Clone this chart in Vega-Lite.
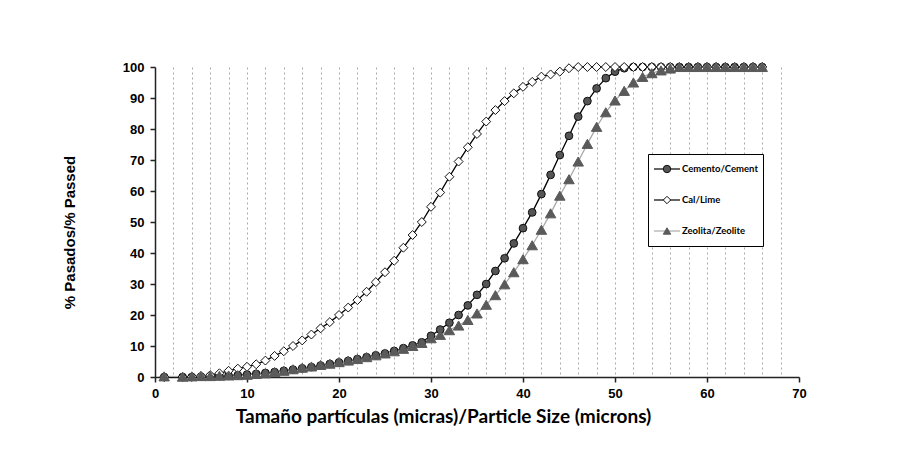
{
  "$schema": "https://vega.github.io/schema/vega-lite/v6.json",
  "width": 644,
  "height": 310,
  "autosize": "none",
  "padding": {"left": 155, "top": 67, "right": 101, "bottom": 72},
  "background": "white",
  "config": {"view": {"stroke": null}},
  "data": {"values": [
    {"s":"Cemento/Cement","x":1,"y":0},{"s":"Cemento/Cement","x":3,"y":0},{"s":"Cemento/Cement","x":4,"y":0},{"s":"Cemento/Cement","x":5,"y":0.1},{"s":"Cemento/Cement","x":6,"y":0.2},{"s":"Cemento/Cement","x":7,"y":0.3},{"s":"Cemento/Cement","x":8,"y":0.4},{"s":"Cemento/Cement","x":9,"y":0.6},{"s":"Cemento/Cement","x":10,"y":0.8},{"s":"Cemento/Cement","x":11,"y":1.0},{"s":"Cemento/Cement","x":12,"y":1.3},{"s":"Cemento/Cement","x":13,"y":1.6},{"s":"Cemento/Cement","x":14,"y":2.0},{"s":"Cemento/Cement","x":15,"y":2.4},{"s":"Cemento/Cement","x":16,"y":2.8},{"s":"Cemento/Cement","x":17,"y":3.2},{"s":"Cemento/Cement","x":18,"y":3.7},{"s":"Cemento/Cement","x":19,"y":4.2},{"s":"Cemento/Cement","x":20,"y":4.7},{"s":"Cemento/Cement","x":21,"y":5.2},{"s":"Cemento/Cement","x":22,"y":5.8},{"s":"Cemento/Cement","x":23,"y":6.4},{"s":"Cemento/Cement","x":24,"y":7.0},{"s":"Cemento/Cement","x":25,"y":7.6},{"s":"Cemento/Cement","x":26,"y":8.4},{"s":"Cemento/Cement","x":27,"y":9.3},{"s":"Cemento/Cement","x":28,"y":10.2},{"s":"Cemento/Cement","x":29,"y":11.2},{"s":"Cemento/Cement","x":30,"y":13.3},{"s":"Cemento/Cement","x":31,"y":15.3},{"s":"Cemento/Cement","x":32,"y":17.5},{"s":"Cemento/Cement","x":33,"y":20.0},{"s":"Cemento/Cement","x":34,"y":23.1},{"s":"Cemento/Cement","x":35,"y":26.5},{"s":"Cemento/Cement","x":36,"y":30.0},{"s":"Cemento/Cement","x":37,"y":34.2},{"s":"Cemento/Cement","x":38,"y":38.3},{"s":"Cemento/Cement","x":39,"y":43.1},{"s":"Cemento/Cement","x":40,"y":48.0},{"s":"Cemento/Cement","x":41,"y":53.1},{"s":"Cemento/Cement","x":42,"y":59.0},{"s":"Cemento/Cement","x":43,"y":65.2},{"s":"Cemento/Cement","x":44,"y":71.6},{"s":"Cemento/Cement","x":45,"y":77.8},{"s":"Cemento/Cement","x":46,"y":84.0},{"s":"Cemento/Cement","x":47,"y":89.0},{"s":"Cemento/Cement","x":48,"y":93.1},{"s":"Cemento/Cement","x":49,"y":96.4},{"s":"Cemento/Cement","x":50,"y":98.5},{"s":"Cemento/Cement","x":51,"y":99.6},{"s":"Cemento/Cement","x":52,"y":100},{"s":"Cemento/Cement","x":53,"y":100},{"s":"Cemento/Cement","x":54,"y":100},{"s":"Cemento/Cement","x":55,"y":100},{"s":"Cemento/Cement","x":56,"y":100},{"s":"Cemento/Cement","x":57,"y":100},{"s":"Cemento/Cement","x":58,"y":100},{"s":"Cemento/Cement","x":59,"y":100},{"s":"Cemento/Cement","x":60,"y":100},{"s":"Cemento/Cement","x":61,"y":100},{"s":"Cemento/Cement","x":62,"y":100},{"s":"Cemento/Cement","x":63,"y":100},{"s":"Cemento/Cement","x":64,"y":100},{"s":"Cemento/Cement","x":65,"y":100},{"s":"Cemento/Cement","x":66,"y":100},
    {"s":"Cal/Lime","x":1,"y":0},{"s":"Cal/Lime","x":3,"y":0},{"s":"Cal/Lime","x":4,"y":0.1},{"s":"Cal/Lime","x":5,"y":0.3},{"s":"Cal/Lime","x":6,"y":0.6},{"s":"Cal/Lime","x":7,"y":1.2},{"s":"Cal/Lime","x":8,"y":2.0},{"s":"Cal/Lime","x":9,"y":2.7},{"s":"Cal/Lime","x":10,"y":3.3},{"s":"Cal/Lime","x":11,"y":4.1},{"s":"Cal/Lime","x":12,"y":5.3},{"s":"Cal/Lime","x":13,"y":6.8},{"s":"Cal/Lime","x":14,"y":8.3},{"s":"Cal/Lime","x":15,"y":10.0},{"s":"Cal/Lime","x":16,"y":11.8},{"s":"Cal/Lime","x":17,"y":13.7},{"s":"Cal/Lime","x":18,"y":15.7},{"s":"Cal/Lime","x":19,"y":17.7},{"s":"Cal/Lime","x":20,"y":20.0},{"s":"Cal/Lime","x":21,"y":22.4},{"s":"Cal/Lime","x":22,"y":24.8},{"s":"Cal/Lime","x":23,"y":27.5},{"s":"Cal/Lime","x":24,"y":30.6},{"s":"Cal/Lime","x":25,"y":33.8},{"s":"Cal/Lime","x":26,"y":37.5},{"s":"Cal/Lime","x":27,"y":41.7},{"s":"Cal/Lime","x":28,"y":45.8},{"s":"Cal/Lime","x":29,"y":50.0},{"s":"Cal/Lime","x":30,"y":54.9},{"s":"Cal/Lime","x":31,"y":59.5},{"s":"Cal/Lime","x":32,"y":64.6},{"s":"Cal/Lime","x":33,"y":69.5},{"s":"Cal/Lime","x":34,"y":74.1},{"s":"Cal/Lime","x":35,"y":78.4},{"s":"Cal/Lime","x":36,"y":82.4},{"s":"Cal/Lime","x":37,"y":86.1},{"s":"Cal/Lime","x":38,"y":89.0},{"s":"Cal/Lime","x":39,"y":91.5},{"s":"Cal/Lime","x":40,"y":93.6},{"s":"Cal/Lime","x":41,"y":95.2},{"s":"Cal/Lime","x":42,"y":96.9},{"s":"Cal/Lime","x":43,"y":97.6},{"s":"Cal/Lime","x":44,"y":98.5},{"s":"Cal/Lime","x":45,"y":99.6},{"s":"Cal/Lime","x":46,"y":100},{"s":"Cal/Lime","x":47,"y":100},{"s":"Cal/Lime","x":48,"y":100},{"s":"Cal/Lime","x":49,"y":100},{"s":"Cal/Lime","x":50,"y":100},{"s":"Cal/Lime","x":51,"y":100},{"s":"Cal/Lime","x":52,"y":100},{"s":"Cal/Lime","x":53,"y":100},{"s":"Cal/Lime","x":54,"y":100},{"s":"Cal/Lime","x":55,"y":100},{"s":"Cal/Lime","x":56,"y":100},{"s":"Cal/Lime","x":57,"y":100},{"s":"Cal/Lime","x":58,"y":100},{"s":"Cal/Lime","x":59,"y":100},{"s":"Cal/Lime","x":60,"y":100},{"s":"Cal/Lime","x":61,"y":100},{"s":"Cal/Lime","x":62,"y":100},{"s":"Cal/Lime","x":63,"y":100},{"s":"Cal/Lime","x":64,"y":100},{"s":"Cal/Lime","x":65,"y":100},{"s":"Cal/Lime","x":66,"y":100},
    {"s":"Zeolita/Zeolite","x":1,"y":0.2},{"s":"Zeolita/Zeolite","x":3,"y":0.1},{"s":"Zeolita/Zeolite","x":4,"y":0.2},{"s":"Zeolita/Zeolite","x":5,"y":0.3},{"s":"Zeolita/Zeolite","x":6,"y":0.3},{"s":"Zeolita/Zeolite","x":7,"y":0.4},{"s":"Zeolita/Zeolite","x":8,"y":0.5},{"s":"Zeolita/Zeolite","x":9,"y":0.6},{"s":"Zeolita/Zeolite","x":10,"y":0.7},{"s":"Zeolita/Zeolite","x":11,"y":1.0},{"s":"Zeolita/Zeolite","x":12,"y":1.2},{"s":"Zeolita/Zeolite","x":13,"y":1.6},{"s":"Zeolita/Zeolite","x":14,"y":2.0},{"s":"Zeolita/Zeolite","x":15,"y":2.5},{"s":"Zeolita/Zeolite","x":16,"y":3.0},{"s":"Zeolita/Zeolite","x":17,"y":3.4},{"s":"Zeolita/Zeolite","x":18,"y":3.9},{"s":"Zeolita/Zeolite","x":19,"y":4.3},{"s":"Zeolita/Zeolite","x":20,"y":4.8},{"s":"Zeolita/Zeolite","x":21,"y":5.3},{"s":"Zeolita/Zeolite","x":22,"y":5.8},{"s":"Zeolita/Zeolite","x":23,"y":6.4},{"s":"Zeolita/Zeolite","x":24,"y":7.0},{"s":"Zeolita/Zeolite","x":25,"y":7.6},{"s":"Zeolita/Zeolite","x":26,"y":8.3},{"s":"Zeolita/Zeolite","x":27,"y":9.1},{"s":"Zeolita/Zeolite","x":28,"y":10.0},{"s":"Zeolita/Zeolite","x":29,"y":11.0},{"s":"Zeolita/Zeolite","x":30,"y":12.5},{"s":"Zeolita/Zeolite","x":31,"y":13.6},{"s":"Zeolita/Zeolite","x":32,"y":15.1},{"s":"Zeolita/Zeolite","x":33,"y":16.6},{"s":"Zeolita/Zeolite","x":34,"y":18.4},{"s":"Zeolita/Zeolite","x":35,"y":20.5},{"s":"Zeolita/Zeolite","x":36,"y":23.3},{"s":"Zeolita/Zeolite","x":37,"y":26.4},{"s":"Zeolita/Zeolite","x":38,"y":29.9},{"s":"Zeolita/Zeolite","x":39,"y":33.8},{"s":"Zeolita/Zeolite","x":40,"y":38.0},{"s":"Zeolita/Zeolite","x":41,"y":42.5},{"s":"Zeolita/Zeolite","x":42,"y":47.5},{"s":"Zeolita/Zeolite","x":43,"y":52.8},{"s":"Zeolita/Zeolite","x":44,"y":58.5},{"s":"Zeolita/Zeolite","x":45,"y":63.8},{"s":"Zeolita/Zeolite","x":46,"y":69.5},{"s":"Zeolita/Zeolite","x":47,"y":75.2},{"s":"Zeolita/Zeolite","x":48,"y":80.7},{"s":"Zeolita/Zeolite","x":49,"y":85.4},{"s":"Zeolita/Zeolite","x":50,"y":89.2},{"s":"Zeolita/Zeolite","x":51,"y":92.3},{"s":"Zeolita/Zeolite","x":52,"y":95.0},{"s":"Zeolita/Zeolite","x":53,"y":96.8},{"s":"Zeolita/Zeolite","x":54,"y":98.0},{"s":"Zeolita/Zeolite","x":55,"y":98.9},{"s":"Zeolita/Zeolite","x":56,"y":99.5},{"s":"Zeolita/Zeolite","x":57,"y":100},{"s":"Zeolita/Zeolite","x":58,"y":100},{"s":"Zeolita/Zeolite","x":59,"y":100},{"s":"Zeolita/Zeolite","x":60,"y":100},{"s":"Zeolita/Zeolite","x":61,"y":100},{"s":"Zeolita/Zeolite","x":62,"y":100},{"s":"Zeolita/Zeolite","x":63,"y":100},{"s":"Zeolita/Zeolite","x":64,"y":100},{"s":"Zeolita/Zeolite","x":65,"y":100},{"s":"Zeolita/Zeolite","x":66,"y":100}
  ]},
  "encoding": {
    "x": {
      "field": "x", "type": "quantitative",
      "scale": {"domain": [0, 70], "nice": false, "zero": false},
      "axis": {
        "title": "Tamaño partículas (micras)/Particle Size (microns)",
        "values": [0,2,4,6,8,10,12,14,16,18,20,22,24,26,28,30,32,34,36,38,40,42,44,46,48,50,52,54,56,58,60,62,64,66,68,70],
        "labelExpr": "datum.value % 10 === 0 ? datum.label : ''",
        "labelOverlap": false,
        "labelFlush": false,
        "grid": true,
        "gridColor": "#a8a8a8",
        "gridDash": [2, 3],
        "gridWidth": 1,
        "gridOpacity": {"condition": {"test": "datum.value === 0 || datum.value === 70", "value": 0}, "value": 1},
        "tickOpacity": {"condition": {"test": "datum.value % 10 === 0", "value": 1}, "value": 0},
        "tickSize": 5,
        "tickColor": "#222",
        "tickWidth": 1.5,
        "domainColor": "#222",
        "domainWidth": 1.5,
        "labelFont": "Liberation Sans",
        "labelFontWeight": "bold",
        "labelFontSize": 13,
        "labelColor": "#000",
        "labelPadding": 5,
        "titleFont": "Lato",
        "titleFontWeight": "bold",
        "titleFontSize": 19,
        "titleColor": "#000",
        "titleX": 288,
        "titleY": 30,
        "titleAlign": "center",
        "titleBaseline": "top"
      }
    },
    "y": {
      "field": "y", "type": "quantitative",
      "scale": {"domain": [0, 100], "nice": false},
      "axis": {
        "title": "% Pasados/% Passed",
        "values": [0,10,20,30,40,50,60,70,80,90,100],
        "grid": false,
        "tickSize": 5,
        "tickColor": "#222",
        "tickWidth": 1.5,
        "domainColor": "#222",
        "domainWidth": 1.5,
        "labelFont": "Liberation Sans",
        "labelFontWeight": "bold",
        "labelFontSize": 13,
        "labelColor": "#000",
        "labelPadding": 6,
        "titleFont": "Liberation Sans",
        "titleFontWeight": "bold",
        "titleFontSize": 15,
        "titleColor": "#000",
        "titleX": -78,
        "titleY": 165,
        "titleAngle": -90,
        "titleAlign": "center",
        "titleBaseline": "bottom"
      }
    }
  },
  "layer": [
    {
      "mark": {"type": "line", "strokeWidth": 1.3},
      "encoding": {
        "color": {
          "field": "s", "type": "nominal",
          "sort": ["Cemento/Cement", "Cal/Lime", "Zeolita/Zeolite"],
          "scale": {"range": ["#000000", "#000000", "#aaaaaa"]},
          "legend": {
            "title": null,
            "orient": "none",
            "legendX": 493,
            "legendY": 87,
            "direction": "vertical",
            "symbolType": "stroke",
            "symbolSize": 676,
            "symbolStrokeWidth": 1.2,
            "strokeColor": "#000",
            "fillColor": "#fff",
            "padding": 5,
            "clipHeight": 20,
            "rowPadding": 11,
            "labelFont": "Lato",
            "labelFontWeight": "bold",
            "labelFontSize": 9.5,
            "labelColor": "#000",
            "labelOffset": 1,
            "labelLimit": 300
          }
        }
      }
    },
    {
      "mark": {"type": "point", "filled": true, "opacity": 1, "strokeWidth": 1},
      "encoding": {
        "size": {"condition": [{"test": "datum.s === 'Zeolita/Zeolite'", "value": 110}, {"test": "datum.s === 'Cal/Lime'", "value": 80}], "value": 60},
        "shape": {
          "field": "s", "type": "nominal",
          "scale": {"domain": ["Cemento/Cement", "Cal/Lime", "Zeolita/Zeolite"], "range": ["circle", "diamond", "triangle-up"]},
          "legend": {
            "title": null,
            "orient": "none",
            "legendX": 493,
            "legendY": 87,
            "direction": "vertical",
            "symbolSize": 55,
            "symbolStrokeWidth": 1,
            "symbolOffset": 9,
            "padding": 5,
            "clipHeight": 20,
            "rowPadding": 11,
            "labelFontSize": 10,
            "labelExpr": "''"
          }
        },
        "fill": {
          "field": "s", "type": "nominal",
          "scale": {"domain": ["Cemento/Cement", "Cal/Lime", "Zeolita/Zeolite"], "range": ["#555555", "#ffffff", "#5a5a5a"]}
        },
        "stroke": {
          "field": "s", "type": "nominal",
          "scale": {"domain": ["Cemento/Cement", "Cal/Lime", "Zeolita/Zeolite"], "range": ["#111111", "#111111", "#5a5a5a"]}
        }
      }
    }
  ]
}
